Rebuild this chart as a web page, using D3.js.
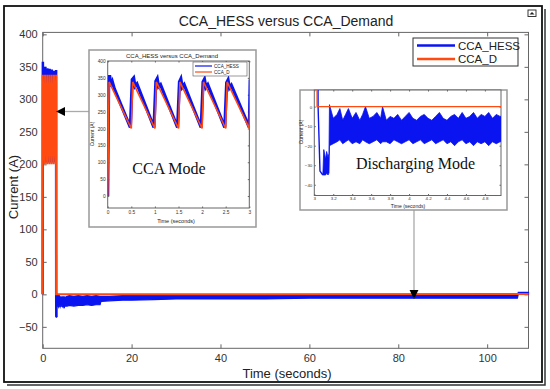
<!DOCTYPE html>
<html><head><meta charset="utf-8">
<script src="https://cdn.jsdelivr.net/npm/d3@7"></script>
<style>
body{margin:0;background:#fff;}
svg{display:block;font-family:"Liberation Sans",Arial,sans-serif;}
</style></head><body>
<svg width="550" height="389"></svg>
<script>
// CCA_D (demand) vertices: [time (s), current (A)]
const demandPts = [[0,0],[0.03,338],[0.5,200],[0.53,338],[1,200],[1.03,338],[1.5,200],[1.53,338],
  [2,200],[2.03,338],[2.5,200],[2.53,338],[3,200],[3.02,338],[3.03,0],[109.3,0.5]];

// CCA_HESS during CCA mode (line)
const hessPts = [[0,0],[0.02,330],[0.04,358],[0.07,325],[0.1,338],[0.14,318],[0.48,203],
  [0.52,345],[0.55,350],[0.58,325],[0.62,332],[0.98,203],
  [1.02,340],[1.05,348],[1.08,324],[1.12,330],[1.48,203],
  [1.52,338],[1.55,347],[1.58,322],[1.62,330],[1.98,203],
  [2.02,338],[2.05,346],[2.08,322],[2.12,330],[2.48,203],
  [2.52,336],[2.55,344],[2.58,320],[2.62,328],[3.0,203],
  [3.02,345],[3.04,0],[3.06,-33],[3.09,-35]];

// CCA_HESS during discharging mode: noisy band [time, low, high]
const hessBand = [[3.09,-35,-35],[3.1,-35,-22],[3.12,-35,-27],[3.13,-34,-23],[3.145,-35,-26],[3.155,-34,-24],[3.16,-20,1],
  [3.20,-19,-6],[3.24,-18,-4],[3.27,-17,-1],[3.30,-19,-7],[3.33,-18,-4],[3.36,-17,-1],[3.40,-19,-6],[3.44,-18,-3],
  [3.48,-19,-7],[3.51,-17,-4],[3.54,-18,0],[3.58,-19,-6],[3.62,-18,-5],[3.66,-17,-3],[3.70,-19,-6],[3.72,-18,0],
  [3.76,-18,-7],[3.80,-19,-5],[3.84,-17,-6],[3.88,-18,-4],[3.92,-19,-7],[3.96,-18,-5],[4.00,-17,-3],[4.04,-19,-6],
  [4.08,-18,-7],[4.12,-17,-5],[4.16,-19,-4],[4.20,-18,-6],[4.24,-17,-7],[4.28,-19,-5],[4.32,-18,-3],[4.36,-17,-6],
  [4.40,-19,-7],[4.44,-18,-5],[4.48,-20,-4],[4.52,-18,-6],[4.56,-17,-3],[4.60,-19,-6],[4.64,-18,-5],[4.68,-20,-3],
  [4.72,-18,-6],[4.76,-19,-4],[4.80,-18,-5],[4.84,-20,-3],[4.88,-18,-6],[4.92,-19,-4],[4.96,-18,-5],
  [5.5,-18,-3],[6,-17,-2],[7,-18,-3],[8,-17,-2],[9,-17,-3],[10,-16,-2],[11,-17,-3],[12,-16,-2],[12.9,-16,-3],
  [13.1,-11,-3],[15,-10,-3],[18,-9,-2],[20,-9,-2],[25,-8,-2],[30,-7,-2],[40,-7,-2],[50,-7,-2],[60,-6,-2],
  [70,-6,-2],[80,-6,-2],[90,-6,-2],[100,-6,-2],[106.8,-6,-2],[107,0,3],[109.3,0,3]];

const mainXTicks = [0,20,40,60,80,100];
const mainYTicks = [-50,0,50,100,150,200,250,300,350,400];
const cca1XTicks = [0,0.5,1,1.5,2,2.5,3];
const cca1YTicks = [0,50,100,150,200,250,300,350,400];
const dis2XTicks = [3,3.2,3.4,3.6,3.8,4,4.2,4.4,4.6,4.8];
const dis2YTicks = [0,-10,-20,-30,-40];
const seriesNames = ["CCA_HESS","CCA_D"];

const BLUE = "#0a14f0", ORANGE = "#ff4a12";
const svg = d3.select("svg");
const defs = svg.append("defs");
defs.append("marker").attr("id","ah").attr("viewBox","0 0 10 10").attr("refX",9).attr("refY",5)
  .attr("markerWidth",7).attr("markerHeight",7).attr("orient","auto")
  .append("path").attr("d","M0,0 L10,5 L0,10 z").attr("fill","#000");

// outer frame with shadow
svg.append("path").attr("d","M545,9 V385 H7").attr("fill","none").attr("stroke","#333").attr("stroke-width",1.5);
svg.append("rect").attr("x",4).attr("y",6).attr("width",538).attr("height",376)
  .attr("fill","#fff").attr("stroke","#111").attr("stroke-width",1.8);
// small window icon
svg.append("rect").attr("x",528).attr("y",10).attr("width",8).attr("height",6.5)
  .attr("fill","#fff").attr("stroke","#222").attr("stroke-width",0.9);
svg.append("path").attr("d","M529.5,14.5 h5 l-2.5,-2.5 z").attr("fill","#222");

// main title
svg.append("text").attr("x",286).attr("y",26).attr("text-anchor","middle")
  .attr("font-size",14).attr("fill","#222").text("CCA_HESS versus CCA_Demand");

// ---------- main plot ----------
const x = d3.scaleLinear().domain([0,109.3]).range([42.7,528.5]);
const y = d3.scaleLinear().domain([-83,403]).range([348.3,32.4]);
const axisCol = "#666";

function plotFrame(g, xs, ys, xt, yt, tl, fs, fmtX, padX, padY) {
  const [x0,x1] = xs.range(), [y0,y1] = ys.range();
  g.append("rect").attr("x",x0).attr("y",y1).attr("width",x1-x0).attr("height",y0-y1)
    .attr("fill","#fff").attr("stroke",axisCol).attr("stroke-width",1);
  const ax = g.append("g").attr("transform",`translate(0,${y0})`)
    .call(d3.axisBottom(xs).tickValues(xt).tickSize(-tl).tickPadding(padX).tickFormat(fmtX));
  const ax2 = g.append("g").attr("transform",`translate(0,${y1})`)
    .call(d3.axisTop(xs).tickValues(xt).tickSize(-tl).tickFormat(""));
  const ay = g.append("g").attr("transform",`translate(${x0},0)`)
    .call(d3.axisLeft(ys).tickValues(yt).tickSize(-tl).tickPadding(padY));
  const ay2 = g.append("g").attr("transform",`translate(${x1},0)`)
    .call(d3.axisRight(ys).tickValues(yt).tickSize(-tl).tickFormat(""));
  [ax,ax2,ay,ay2].forEach(a => {
    a.select(".domain").remove();
    a.selectAll("line").attr("stroke",axisCol);
    a.selectAll("text").attr("font-size",fs).attr("fill","#333").attr("font-family","Liberation Sans, Arial, sans-serif");
  });
}

const main = svg.append("g");
plotFrame(main, x, y, mainXTicks, mainYTicks, 4, 11, d3.format("d"), 6, 5);

const lineM = d3.line().x(d => x(d[0])).y(d => y(d[1]));
const areaM = d3.area().x(d => x(d[0])).y0(d => y(d[1])).y1(d => y(d[2]));
main.append("path").attr("d",areaM(hessBand)).attr("fill",BLUE).attr("stroke",BLUE).attr("stroke-width",1.2);
main.append("path").attr("d",lineM(hessPts)).attr("fill","none").attr("stroke",BLUE).attr("stroke-width",2.5);
main.append("path").attr("d",lineM(demandPts)).attr("fill","none").attr("stroke",ORANGE).attr("stroke-width",2);

// axis titles
svg.append("text").attr("x",287).attr("y",378).attr("text-anchor","middle")
  .attr("font-size",13).attr("fill","#222").text("Time (seconds)");
svg.append("text").attr("transform","translate(18,187) rotate(-90)").attr("text-anchor","middle")
  .attr("font-size",13).attr("fill","#222").text("Current (A)");

// legend
const lg = svg.append("g");
lg.append("rect").attr("x",413).attr("y",38).attr("width",105).attr("height",28)
  .attr("fill","#fff").attr("stroke","#333").attr("stroke-width",1);
seriesNames.forEach((n,i) => {
  const yy = 45.5 + i*13.5;
  lg.append("line").attr("x1",417).attr("x2",455).attr("y1",yy).attr("y2",yy)
    .attr("stroke", i ? ORANGE : BLUE).attr("stroke-width",2.5);
  lg.append("text").attr("x",458).attr("y",yy+4).attr("font-size",11.5).attr("fill","#222").text(n);
});

// arrows from insets
svg.append("line").attr("x1",89).attr("y1",111.5).attr("x2",57).attr("y2",111.5)
  .attr("stroke","#aaa").attr("stroke-width",1.3).attr("marker-end","url(#ah)");
svg.append("line").attr("x1",414).attr("y1",210).attr("x2",414).attr("y2",298)
  .attr("stroke","#aaa").attr("stroke-width",1.3).attr("marker-end","url(#ah)");

// ---------- inset 1: CCA mode ----------
const in1 = svg.append("g");
in1.append("rect").attr("x",89).attr("y",50).attr("width",167).attr("height",177)
  .attr("fill","#fff").attr("stroke","#999").attr("stroke-width",1.5);
const x1 = d3.scaleLinear().domain([0,3]).range([107.7,249.3]);
const y1 = d3.scaleLinear().domain([-35.5,400]).range([208,61]);
plotFrame(in1, x1, y1, cca1XTicks, cca1YTicks, 1.5, 4.8, d3.format(""), 2.5, 2);
defs.append("clipPath").attr("id","c1").append("rect")
  .attr("x",107.7).attr("y",61).attr("width",141.6).attr("height",147);
const l1 = d3.line().x(d => x1(d[0])).y(d => y1(d[1]));
const c1 = in1.append("g").attr("clip-path","url(#c1)");
c1.append("path").attr("d",l1(hessPts)).attr("fill","none").attr("stroke",BLUE).attr("stroke-width",3.2);
c1.append("path").attr("d",l1(demandPts)).attr("fill","none").attr("stroke",ORANGE).attr("stroke-width",1.6);
in1.append("text").attr("x",172).attr("y",57.5).attr("text-anchor","middle").attr("font-size",6).attr("fill","#222")
  .text("CCA_HESS versus CCA_Demand");
in1.append("text").attr("x",176).attr("y",222.5).attr("text-anchor","middle").attr("font-size",5.5).attr("fill","#222")
  .text("Time (seconds)");
in1.append("text").attr("transform","translate(94,134) rotate(-90)").attr("text-anchor","middle")
  .attr("font-size",5).attr("fill","#222").text("Current (A)");
in1.append("rect").attr("x",193).attr("y",62).attr("width",54).attr("height",14)
  .attr("fill","#fff").attr("stroke","#555").attr("stroke-width",0.6);
seriesNames.forEach((n,i) => {
  const yy = 66 + i*6;
  in1.append("line").attr("x1",195).attr("x2",212).attr("y1",yy).attr("y2",yy)
    .attr("stroke", i ? ORANGE : BLUE).attr("stroke-width",1.2);
  in1.append("text").attr("x",214).attr("y",yy+1.8).attr("font-size",4.6).attr("fill","#222").text(n);
});
in1.append("text").attr("x",169).attr("y",174).attr("text-anchor","middle")
  .attr("font-family","Liberation Serif, Times New Roman, serif").attr("font-size",16).attr("fill","#111")
  .text("CCA Mode");

// ---------- inset 2: discharging mode ----------
const in2 = svg.append("g");
in2.append("rect").attr("x",300).attr("y",90).attr("width",207).attr("height",120)
  .attr("fill","#fff").attr("stroke","#999").attr("stroke-width",1.5);
const x2 = d3.scaleLinear().domain([3,4.97]).range([314.3,501]);
const y2 = d3.scaleLinear().domain([-45.5,8.5]).range([195.5,90]);
plotFrame(in2, x2, y2, dis2XTicks, dis2YTicks, 1.5, 4.4, d3.format(""), 1.5, 2);
defs.append("clipPath").attr("id","c2").append("rect")
  .attr("x",314.3).attr("y",90).attr("width",186.7).attr("height",105.5);
const l2 = d3.line().x(d => x2(d[0])).y(d => y2(d[1]));
const a2 = d3.area().x(d => x2(d[0])).y0(d => y2(d[1])).y1(d => y2(d[2]));
const c2 = in2.append("g").attr("clip-path","url(#c2)");
c2.append("path").attr("d",a2(hessBand)).attr("fill",BLUE).attr("stroke",BLUE).attr("stroke-width",0.8);
c2.append("path").attr("d",l2(hessPts)).attr("fill","none").attr("stroke",BLUE).attr("stroke-width",1.4);
c2.append("path").attr("d",l2(demandPts)).attr("fill","none").attr("stroke",ORANGE).attr("stroke-width",1.4);
in2.append("text").attr("x",408).attr("y",207.5).attr("text-anchor","middle").attr("font-size",5).attr("fill","#222")
  .text("Time (seconds)");
in2.append("text").attr("transform","translate(303,132) rotate(-90)").attr("text-anchor","middle")
  .attr("font-size",5).attr("fill","#222").text("Current (A)");
in2.append("text").attr("x",415.5).attr("y",169).attr("text-anchor","middle")
  .attr("font-family","Liberation Serif, Times New Roman, serif").attr("font-size",16).attr("fill","#111")
  .text("Discharging Mode");
</script>
</body></html>
